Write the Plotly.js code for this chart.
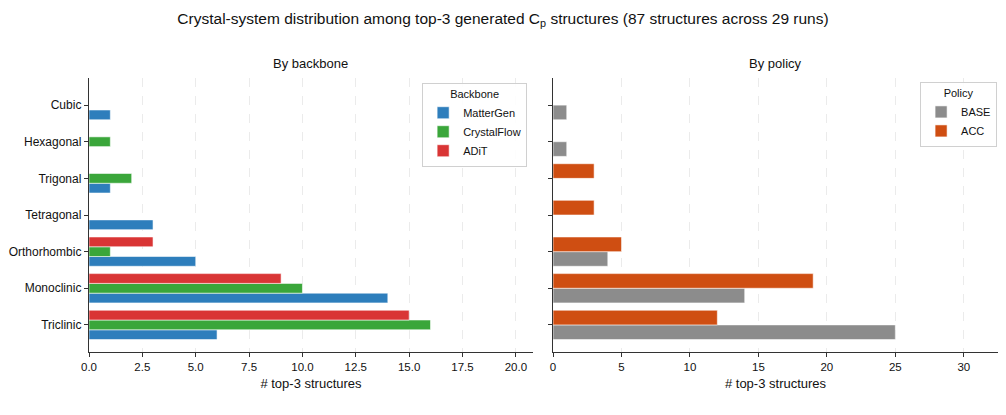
<!DOCTYPE html>
<html>
<head>
<meta charset="utf-8">
<script src="https://cdn.plot.ly/plotly-3.0.1.min.js"></script>
<style>
  html, body { margin: 0; padding: 0; background: #fff; }
  #chart { width: 1006px; height: 415px; }
</style>
</head>
<body>
<div id="chart"></div>
<script>
// Crystal systems, listed top to bottom as shown
const systems = ["Cubic", "Hexagonal", "Trigonal", "Tetragonal", "Orthorhombic", "Monoclinic", "Triclinic"];

// Counts per backbone
const matterGen   = [1, 0, 1, 3, 5, 14, 6];
const crystalFlow = [0, 1, 2, 0, 1, 10, 16];
const adit        = [0, 0, 0, 0, 3, 9, 15];

// Counts per policy
const basePolicy = [1, 1, 0, 0, 4, 14, 25];
const accPolicy  = [0, 0, 3, 3, 5, 19, 12];

const titleText = "Crystal-system distribution among top-3 generated C<sub>p</sub> structures (87 structures across 29 runs)";

const FONT = "Liberation Sans, Arial, Helvetica, sans-serif";
const edge = { color: "rgba(255,255,255,0.55)", width: 1 };

function barTrace(name, values, color, xa, ya, legend) {
  return {
    type: "bar",
    orientation: "h",
    name: name,
    x: values,
    y: systems,
    xaxis: xa,
    yaxis: ya,
    legend: legend,
    marker: { color: color, line: edge },
    hoverinfo: "x+y+name"
  };
}

const traces = [
  barTrace("MatterGen", matterGen, "#2e7ebc", "x", "y", "legend"),
  barTrace("CrystalFlow", crystalFlow, "#3aa63a", "x", "y", "legend"),
  barTrace("ADiT", adit, "#d93535", "x", "y", "legend"),
  barTrace("BASE", basePolicy, "#8c8c8c", "x2", "y2", "legend2"),
  barTrace("ACC", accPolicy, "#cf4e12", "x2", "y2", "legend2")
];

const maxBackbone = Math.max(...matterGen, ...crystalFlow, ...adit);
const maxPolicy = Math.max(...basePolicy, ...accPolicy);

const bottomUp = systems.slice().reverse();

const xCommon = {
  showline: true,
  linecolor: "#333",
  linewidth: 1.2,
  ticks: "outside",
  ticklen: 4,
  tickwidth: 1,
  tickcolor: "#333",
  showgrid: true,
  gridcolor: "#e6e6e6",
  griddash: "dash",
  gridwidth: 0.8,
  zeroline: false,
  tickfont: { family: FONT, size: 11.5, color: "#111" },
  title: { text: "# top-3 structures", font: { family: FONT, size: 13, color: "#111" }, standoff: 6 },
  fixedrange: true
};

const yCommon = {
  type: "category",
  categoryorder: "array",
  categoryarray: bottomUp,
  range: [-0.74, 6.74],
  showline: true,
  linecolor: "#333",
  linewidth: 1.2,
  ticks: "outside",
  ticklen: 4,
  tickwidth: 1,
  tickcolor: "#333",
  showgrid: false,
  zeroline: false,
  tickfont: { family: FONT, size: 12, color: "#111" },
  fixedrange: true
};

const legendCommon = {
  xanchor: "right",
  yanchor: "top",
  bgcolor: "rgba(255,255,255,0.9)",
  bordercolor: "#d0d0d0",
  borderwidth: 1,
  font: { family: FONT, size: 11, color: "#111" },
  itemwidth: 30,
  tracegroupgap: 2,
  traceorder: "normal"
};

const layout = {
  width: 1006,
  height: 415,
  paper_bgcolor: "#fff",
  plot_bgcolor: "#fff",
  margin: { l: 89, r: 8, t: 78, b: 63 },
  barmode: "group",
  bargap: 0.2,
  bargroupgap: 0,
  font: { family: FONT, color: "#111" },
  title: {
    text: titleText,
    font: { family: FONT, size: 15.5, color: "#111" },
    x: 0.5, xref: "container", xanchor: "center",
    y: 0.955, yref: "container", yanchor: "middle"
  },
  xaxis: Object.assign({}, xCommon, { domain: [0, 0.4884], range: [0, maxBackbone * 1.3], dtick: 2.5, tickformat: ".1f", anchor: "y" }),
  yaxis: Object.assign({}, yCommon, { anchor: "x" }),
  xaxis2: Object.assign({}, xCommon, { domain: [0.5105, 1], range: [0, maxPolicy * 1.3], dtick: 5, anchor: "y2" }),
  yaxis2: Object.assign({}, yCommon, { anchor: "x2", showticklabels: false }),
  legend: Object.assign({}, legendCommon, {
    x: 0.482, y: 0.982, xref: "paper", yref: "paper",
    title: { text: "Backbone", side: "top center", font: { family: FONT, size: 11, color: "#111" } }
  }),
  legend2: Object.assign({}, legendCommon, {
    x: 0.999, y: 0.985, xref: "paper", yref: "paper",
    title: { text: "Policy", side: "top center", font: { family: FONT, size: 11, color: "#111" } }
  }),
  annotations: [
    { text: "By backbone", xref: "paper", yref: "paper", x: 0.2442, y: 1, xanchor: "center", yanchor: "bottom", yshift: 5, showarrow: false,
      font: { family: FONT, size: 13, color: "#111" } },
    { text: "By policy", xref: "paper", yref: "paper", x: 0.7552, y: 1, xanchor: "center", yanchor: "bottom", yshift: 5, showarrow: false,
      font: { family: FONT, size: 13, color: "#111" } }
  ],
  showlegend: true
};

Plotly.newPlot("chart", traces, layout, { displayModeBar: false, staticPlot: true });
</script>
</body>
</html>
